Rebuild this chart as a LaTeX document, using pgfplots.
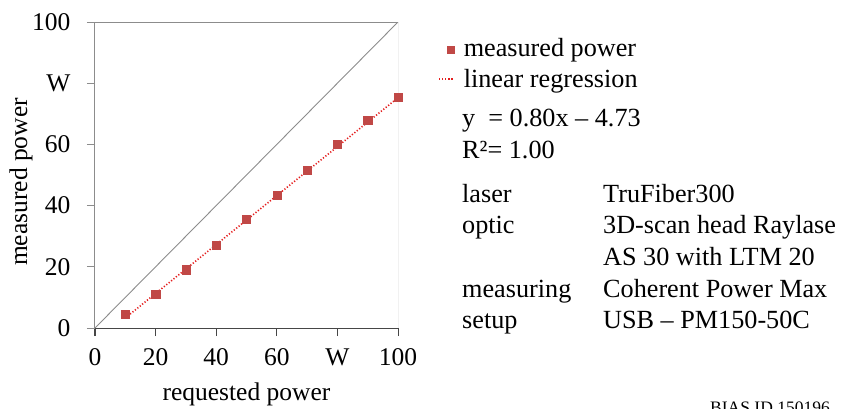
\documentclass[border=0pt]{standalone}
\usepackage{fontspec}
\setmainfont{Liberation Serif}
\usepackage{pgfplots}
\pgfplotsset{compat=1.18}
\definecolor{markred}{RGB}{192,72,70}
\definecolor{dotred}{RGB}{228,30,30}
\definecolor{axgray}{RGB}{140,140,140}
\definecolor{axdark}{RGB}{70,70,70}
\newcommand{\bigf}{\fontsize{25.5}{31}\selectfont}
\newcommand{\txtf}{\fontsize{26.2}{31}\selectfont}

\begin{document}
\begin{tikzpicture}
\useasboundingbox (0pt,0pt) rectangle (841pt,-408pt);
\begin{axis}[
  at={(95pt,-328pt)}, anchor=south west,
  scale only axis, width=303pt, height=306pt,
  xmin=0, xmax=100, ymin=0, ymax=100,
  xtick={0,20,40,60,80,100}, ytick={0,20,40,60,80,100},
  xticklabels={0,20,40,60,W,100}, yticklabels={0,20,40,60,W,100},
  axis x line*=bottom, axis y line*=left,
  xtick align=outside, ytick align=outside,
  major tick length=8pt,
  axis line style={axgray, line width=1pt, -},
  x axis line style={axdark},
  every x tick/.style={axdark, line width=1pt},
  every y tick/.style={axgray, line width=1pt},
  /pgf/number format/assume math mode=true,
  tick label style={font=\bigf},
  label style={font=\bigf},
  xticklabel style={yshift=-9pt},
  yticklabel style={xshift=-13pt},
  xlabel={requested power}, ylabel={measured power},
  xlabel style={at={(axis description cs:0.5,-0.2353)}, anchor=base},
  ylabel style={at={(axis description cs:-0.2244,0.477)}, anchor=base},
  legend style={at={(axis description cs:1.132,0.9526)}, anchor=north west,
    draw=none, fill=none, inner sep=0pt, row sep=5.5pt, column sep=8pt,
    font=\txtf, nodes={inner sep=0pt, text height=19.5pt, text depth=6pt}},
  legend cell align=left,
]
% top and right frame lines
\addplot[axgray, line width=1pt, forget plot] coordinates {(0,100) (100,100) (100,0)};
% 1:1 reference line
\addplot[axgray, line width=0.9pt, forget plot] coordinates {(0,0) (100,100)};

\addplot[only marks, mark=square*, mark size=4.1pt, color=markred,
  legend image code/.code={\path (0pt,0pt) (16pt,0pt);
    \path[markred, mark=square*, mark size=3.6pt] plot coordinates {(12pt,0pt)};}]
  coordinates {
    (10,4.5) (20,11.0) (30,19.05) (40,27.1) (50,35.6)
    (60,43.5) (70,51.5) (80,60.0) (90,67.9) (100,75.3)
  };
\addlegendentry{measured power}

\addplot[dotred, line width=1.6pt, dash pattern=on 1.2pt off 1.9pt, no marks,
  legend image code/.code={\path (0pt,0pt) (16pt,0pt);
    \draw[dotred, line width=1.6pt, dash pattern=on 1.2pt off 1.9pt] (0pt,1.5pt) -- (15pt,1.5pt);}]
  coordinates {(10,3.27) (100,75.27)};
\addlegendentry{linear regression}
\end{axis}

% outward tick strokes along the frame
\foreach \k in {0,...,5} {
  \draw[axdark, line width=1pt] ({(95+60.6*\k)*1pt},-328pt) -- ++(0pt,-7.5pt);
  \draw[axgray, line width=1pt] (95pt,{(-328+61.2*\k)*1pt}) -- ++(-8pt,0pt);
}

\begin{scope}[every node/.style={inner sep=0pt, anchor=base west, font=\txtf}]
\node at (462pt,-126.7pt) {y\ \ = 0.80x -- 4.73};
\node at (462pt,-158pt) {R²= 1.00};
\node at (462pt,-202pt) {laser};
\node at (603pt,-202pt) {TruFiber300};
\node at (462pt,-233.5pt) {optic};
\node at (603pt,-233.5pt) {3D-scan head Raylase};
\node at (603pt,-265pt) {AS 30 with LTM 20};
\node at (462pt,-297pt) {measuring};
\node at (603pt,-297pt) {Coherent Power Max};
\node at (462pt,-328pt) {setup};
\node at (603pt,-328pt) {USB -- PM150-50C};
\end{scope}
\node[inner sep=0pt, anchor=base west, font=\fontsize{17.5}{20}\selectfont] at (710pt,-413.6pt) {BIAS ID 150196};
\end{tikzpicture}
\end{document}
